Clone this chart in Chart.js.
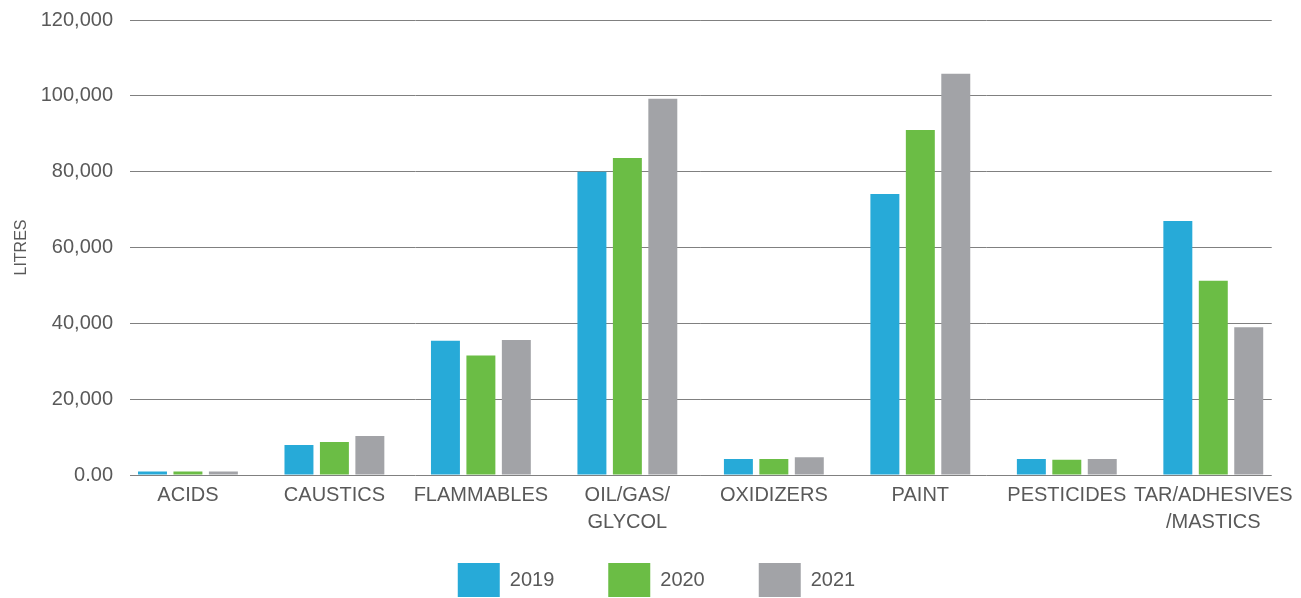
<!DOCTYPE html>
<html><head><meta charset="utf-8">
<script src="https://cdn.jsdelivr.net/npm/chart.js@4/dist/chart.umd.min.js"></script>
<style>html,body{margin:0;padding:0;background:#fff;}canvas{display:block;}</style>
</head><body>
<canvas id="c" width="1301" height="598"></canvas>
<script>
const categories = [["ACIDS"],["CAUSTICS"],["FLAMMABLES"],["OIL/GAS/","GLYCOL"],["OXIDIZERS"],["PAINT"],["PESTICIDES"],["TAR/ADHESIVES","/MASTICS"]];
const seriesNames = ["2019","2020","2021"];
const values2019 = [900, 7900, 35400, 80000, 4200, 74100, 4200, 67000];
const values2020 = [900, 8700, 31500, 83600, 4200, 91000, 4000, 51200];
const values2021 = [900, 10300, 35600, 99200, 4700, 105800, 4200, 39000];
const yTicks = [0, 20000, 40000, 60000, 80000, 100000, 120000];
const colors = ["#27AAD8", "#6BBD45", "#A2A3A7"];
const FONT = "'Liberation Sans', 'DejaVu Sans', sans-serif";
const TXT = "#595959";
const catIndex = categories.map((_, i) => i);

const layoutTweak = {
  id: 'layoutTweak',
  afterLayout(chart) {
    const x = chart.scales.x;
    x.bottom = x.top + 70; x.height = 70;
    const lg = chart.legend;
    if (lg) { lg.left += 20; lg.right += 20; }
  }
};

new Chart(document.getElementById('c'), {
  type: 'bar',
  data: {
    labels: catIndex,
    datasets: [values2019, values2020, values2021].map((v, i) => ({
      label: seriesNames[i], data: v, backgroundColor: colors[i], borderWidth: 0,
      categoryPercentage: 0.726, barPercentage: 0.817
    }))
  },
  plugins: [layoutTweak],
  options: {
    responsive: false, animation: false,
    layout: { padding: { top: 0, right: 28, left: 0, bottom: -9 } },
    plugins: {
      legend: {
        position: 'bottom',
        labels: { boxWidth: 42, boxHeight: 34, padding: 54, color: TXT, font: { family: FONT, size: 20 } }
      },
      tooltip: { enabled: false }
    },
    scales: {
      x: {
        type: 'linear', offset: false,
        min: -0.3955, max: 7.399,
        afterFit: (s) => { s.height = 34; },
        afterBuildTicks: (s) => { s.ticks = catIndex.map(v => ({ value: v })); },
        grid: { display: false, drawTicks: false },
        border: { display: false },
        ticks: { color: TXT, font: { family: FONT, size: 20, lineHeight: 1.35 }, padding: 7, maxRotation: 0, autoSkip: false,
          callback: (v) => categories[v] }
      },
      y: {
        min: 0, max: 120000,
        afterFit: (s) => { s.width = 130; s.paddingTop = 20; s.paddingBottom = 0; },
        afterBuildTicks: (s) => { s.ticks = yTicks.map(v => ({ value: v })); },
        grid: { color: '#808080', lineWidth: 1, drawTicks: false },
        border: { display: false },
        ticks: { color: TXT, font: { family: FONT, size: 20 }, padding: 17,
          callback: (v) => v === 0 ? '0.00' : v.toLocaleString('en-US') },
        title: { display: true, text: 'LITRES', color: TXT, font: { family: FONT, size: 16 }, padding: { top: 12, bottom: 0 } }
      }
    }
  }
});
</script>
</body></html>
